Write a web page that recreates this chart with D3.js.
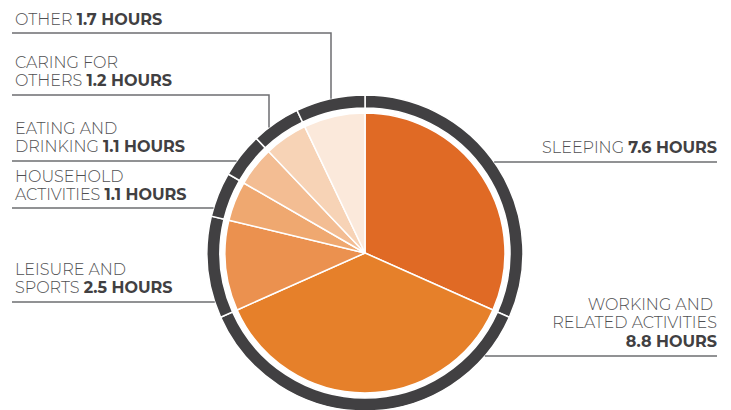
<!DOCTYPE html>
<html>
<head>
<meta charset="utf-8">
<script src="https://cdn.jsdelivr.net/npm/d3@7"></script>
<style>
  html, body { margin: 0; padding: 0; background: #fff; }
  svg { display: block; }
</style>
</head>
<body>
<div id="chart"></div>
<script>
// Average hours per day, clockwise from 12 o'clock
const categories = ["Sleeping", "Working and related activities", "Leisure and sports",
  "Household activities", "Eating and drinking", "Caring for others", "Other"]
const hours = [7.6, 8.8, 2.5, 1.1, 1.1, 1.2, 1.7]
const colors = ["#e06a25", "#e6802a", "#eb914f", "#efa870", "#f3bd93", "#f7d3b6", "#fbe9db"]

// label text lines (the hours value is appended in bold to the last line)
const labelLines = [
  ["SLEEPING "],
  ["WORKING AND ", "RELATED ACTIVITIES", ""],
  ["LEISURE AND", "SPORTS "],
  ["HOUSEHOLD", "ACTIVITIES "],
  ["EATING AND", "DRINKING "],
  ["CARING FOR", "OTHERS "],
  ["OTHER "]
]

const width = 731, height = 410
const cx = 365, cy = 253
const rPie = 140, rRingIn = 145, rRingOut = 158

// label layout: side, first baseline, leader y, optional elbow x
const layout = [
  { side: "right", y0: 153, ly: 162 },
  { side: "right", y0: 310, ly: 356 },
  { side: "left", y0: 275, ly: 302 },
  { side: "left", y0: 182, ly: 208 },
  { side: "left", y0: 134, ly: 161 },
  { side: "left", y0: 68, ly: 95, ex: 269 },
  { side: "left", y0: 25, ly: 33, ex: 331 }
]

const svg = d3.select("#chart").append("svg")
  .attr("width", width).attr("height", height)

const pie = d3.pie().sort(null).value(d => d)
const arcs = pie(hours)

const g = svg.append("g").attr("transform", `translate(${cx},${cy})`)

// outer ring, split at slice boundaries
const ring = d3.arc().innerRadius(rRingIn).outerRadius(rRingOut)
g.selectAll(".ring")
  .data(arcs)
  .enter().append("path")
  .attr("class", "ring")
  .attr("d", ring)
  .attr("fill", "#414042")
  .attr("stroke", "#fff")
  .attr("stroke-width", 1.5)

// slices
const arc = d3.arc().innerRadius(0).outerRadius(rPie)
g.selectAll(".slice")
  .data(arcs)
  .enter().append("path")
  .attr("class", "slice")
  .attr("d", arc)
  .attr("fill", (d, i) => colors[i])
  .attr("stroke", "#fff")
  .attr("stroke-width", 1.5)
  .attr("stroke-linejoin", "round")

// leaders
const leaders = svg.append("g")
  .attr("fill", "none").attr("stroke", "#6d6e71").attr("stroke-width", 1.5)

layout.forEach((L, i) => {
  let pts
  if (L.ex != null) {
    const dx = L.ex - cx
    const yEnd = cy - Math.sqrt(rRingOut * rRingOut - dx * dx)
    pts = [[12, L.ly], [L.ex, L.ly], [L.ex, yEnd]]
  } else {
    const dy = L.ly - cy
    const half = Math.sqrt(rRingOut * rRingOut - dy * dy)
    pts = L.side === "left" ? [[12, L.ly], [cx - half, L.ly]] : [[cx + half, L.ly], [717, L.ly]]
  }
  leaders.append("path").attr("d", d3.line()(pts))
})

// labels
const labels = svg.append("g")
  .attr("font-family", "Montserrat, Inter, 'Open Sans', sans-serif")
  .attr("font-size", 16)
  .attr("fill", "#505052")

layout.forEach((L, i) => {
  const lines = labelLines[i]
  const t = labels.append("text")
    .attr("text-anchor", L.side === "left" ? "start" : "end")
  lines.forEach((ln, j) => {
    const x = L.side === "left" ? 15 : 717
    const ts = t.append("tspan").attr("x", x).attr("y", L.y0 + j * 18.3)
    ts.append("tspan").attr("font-weight", 300).text(ln)
    if (j === lines.length - 1) {
      ts.append("tspan").attr("font-weight", 700).attr("fill", "#414042")
        .text(`${hours[i]} HOURS`)
    }
  })
})
</script>
</body>
</html>
